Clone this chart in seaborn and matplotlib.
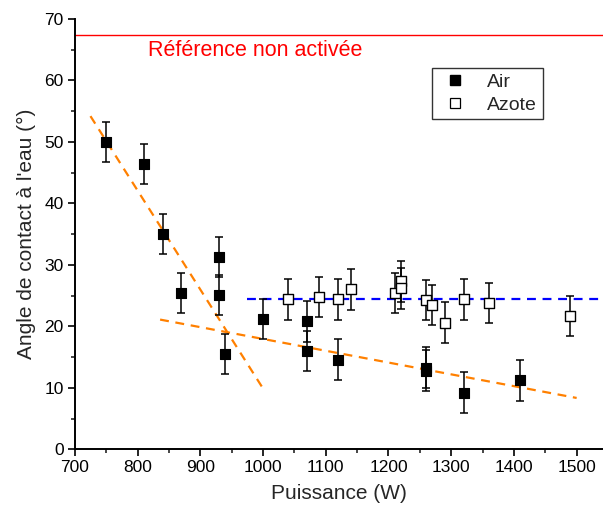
import matplotlib
matplotlib.use("Agg")
import matplotlib.pyplot as plt
from matplotlib.lines import Line2D
from matplotlib.ticker import MultipleLocator
import numpy as np
import pandas as pd
import seaborn as sns

# Contact angle measurements, plasma activation in air
air_power = [750, 810, 840, 870, 930, 930, 940, 1000, 1070, 1070, 1120, 1260, 1260, 1320, 1410]
air_angle = [50.0, 46.4, 35.0, 25.4, 31.3, 25.1, 15.5, 21.2, 20.8, 16.0, 14.6, 13.3, 12.8, 9.2, 11.2]
air_err = [3.3] * len(air_power)

# Contact angle measurements, plasma activation in nitrogen
azote_power = [1040, 1090, 1120, 1140, 1210, 1220, 1220, 1260, 1270, 1290, 1320, 1360, 1490]
azote_angle = [24.4, 24.8, 24.4, 26.0, 25.4, 27.3, 26.2, 24.3, 23.5, 20.6, 24.4, 23.8, 21.7]
azote_err = [3.3] * len(azote_power)

# Reference angle of the untreated surface
reference_angle = 67.4

# Trend lines (start/end points)
trend_air_steep_x = [725, 1000]
trend_air_steep_y = [54.2, 9.9]
trend_air_slow_x = [836, 1500]
trend_air_slow_y = [21.1, 8.35]
trend_azote_x = [975, 1542]
trend_azote_y = [24.5, 24.5]

sns.set_theme(style="ticks")
plt.rcParams["font.family"] = ["Liberation Sans", "DejaVu Sans"]

df_air = pd.DataFrame({"P": air_power, "A": air_angle})
df_az = pd.DataFrame({"P": azote_power, "A": azote_angle})

fig = plt.figure(figsize=(6.03, 5.15), dpi=100)
ax = fig.add_axes([0.124, 0.1276, 0.876, 0.8355])

ax.axhline(reference_angle, color="#ff0000", lw=1.0, zorder=1)

ax.plot(trend_air_steep_x, trend_air_steep_y, color="#ff8000", lw=1.6, ls=(0, (4, 3)), zorder=2)
ax.plot(trend_air_slow_x, trend_air_slow_y, color="#ff8000", lw=1.6, ls=(0, (4, 3)), zorder=2)
ax.plot(trend_azote_x, trend_azote_y, color="#0000ff", lw=1.6, ls=(0, (4, 3)), zorder=2)

ax.errorbar(air_power, air_angle, yerr=air_err, fmt="none", ecolor="black",
            elinewidth=1.1, capsize=3.2, capthick=1.1, zorder=3)
ax.errorbar(azote_power, azote_angle, yerr=azote_err, fmt="none", ecolor="black",
            elinewidth=1.1, capsize=3.2, capthick=1.1, zorder=3)

sns.scatterplot(data=df_air, x="P", y="A", marker="s", s=55, color="black",
                edgecolor="black", linewidth=0.8, ax=ax, zorder=4, legend=False)
sns.scatterplot(data=df_az, x="P", y="A", marker="s", s=55, color="white",
                edgecolor="black", linewidth=1.0, ax=ax, zorder=4, legend=False)

ax.text(817, 63.9, "Référence non activée", color="#ff0000", fontsize=15.5,
        ha="left", va="baseline")

ax.set_xlim(700, 1542)
ax.set_ylim(0, 70)
ax.xaxis.set_major_locator(MultipleLocator(100))
ax.xaxis.set_minor_locator(MultipleLocator(50))
ax.yaxis.set_major_locator(MultipleLocator(10))
ax.yaxis.set_minor_locator(MultipleLocator(5))
ax.tick_params(axis="both", which="major", direction="out", length=5, width=1.2,
               labelsize=12.5, colors="black", pad=3)
ax.tick_params(axis="both", which="minor", direction="out", length=3, width=1.2)

for side in ("top", "right"):
    ax.spines[side].set_visible(False)
for side in ("left", "bottom"):
    ax.spines[side].set_linewidth(1.4)
    ax.spines[side].set_color("black")

ax.set_xlabel("Puissance (W)", fontsize=15, labelpad=6)
ax.set_ylabel("Angle de contact à l'eau (°)", fontsize=15, labelpad=6)

handles = [
    Line2D([], [], marker="s", ls="none", color="black", markerfacecolor="black",
           markersize=7, label="Air"),
    Line2D([], [], marker="s", ls="none", color="black", markerfacecolor="white",
           markersize=7, markeredgewidth=0.9, label="Azote"),
]
leg = ax.legend(handles=handles, loc="upper left", bbox_to_anchor=(0.677, 0.887),
                borderaxespad=0, fontsize=14, frameon=True, fancybox=False,
                handletextpad=0.75, borderpad=0.3, labelspacing=0.25, handlelength=1.75)
leg.get_frame().set_edgecolor("black")
leg.get_frame().set_linewidth(1.0)

fig.savefig("out.png", dpi=100)
